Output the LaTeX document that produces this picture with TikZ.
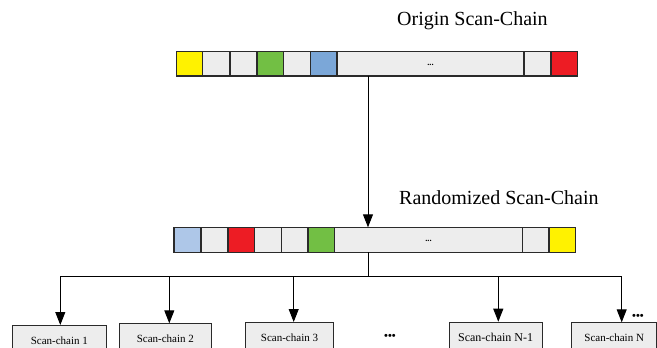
\documentclass[tikz,border=0pt]{standalone}
\usepackage{fontspec}
\setmainfont{Liberation Serif}
\usetikzlibrary{arrows.meta}
\definecolor{cellgray}{HTML}{EDEDED}
\definecolor{cyel}{HTML}{FFF200}
\definecolor{cgreen}{HTML}{72BF44}
\definecolor{cblue}{HTML}{7BA7D8}
\definecolor{clblue}{HTML}{AEC7E8}
\definecolor{cred}{HTML}{ED1C24}
\definecolor{edgec}{HTML}{2A2A2A}
\tikzset{
  cellbox/.style={draw=edgec, line width=1.1pt, fill=cellgray, inner sep=0pt, outer sep=0pt},
  dotstxt/.style={font=\fontsize{8.5}{9}\selectfont\bfseries},
  chainbox/.style={draw=edgec, line width=0.9pt, fill=cellgray, anchor=north, minimum height=30pt,
     inner sep=0pt, font=\fontsize{11}{13}\selectfont},
  title/.style={font=\fontsize{20}{24}\selectfont, inner sep=0pt},
  conn/.style={draw=black, line width=0.9pt},
  arr/.style={conn, -{Triangle[length=13pt,width=10pt]}},
  bdots/.style={font=\fontsize{11}{12}\selectfont\bfseries, inner sep=0pt}
}
\begin{document}
\begin{tikzpicture}[x=1pt,y=-1pt]
\useasboundingbox (0,0) rectangle (657,348);
\clip (0,0) rectangle (657,348);
% titles
\node[title, anchor=west] (t1) at (397,21) {Origin Scan-Chain};
\node[title, anchor=west] (t2) at (399,198) {Randomized Scan-Chain};
% origin chain
\foreach \n/\cx/\w/\c in {o1/189.7/26/cyel, o2/216.35/27.3/cellgray, o3/243.5/27/cellgray,
   o4/270.35/26.7/cgreen, o5/297/26.6/cellgray, o6/323.65/26.7/cblue, o8/537.5/27/cellgray,
   o9/564.15/26.3/cred}
  \node[cellbox, fill=\c, minimum width=\w pt, minimum height=24.3pt] (\n) at (\cx,63.85) {};
\node[cellbox, minimum width=187pt, minimum height=24.3pt] (o7) at (430.5,63.85) {};
\node[dotstxt] (od) at (430.5,64.5) {...};
% randomized chain
\foreach \n/\cx/\w/\c in {m1/187.5/27/clblue, m2/214.5/27/cellgray, m3/241.15/26.3/cred,
   m4/267.8/27/cellgray, m5/294.65/26.7/cellgray, m6/321.35/26.7/cgreen, m8/535.65/26.7/cellgray,
   m9/562.35/26.7/cyel}
  \node[cellbox, fill=\c, minimum width=\w pt, minimum height=25pt] (\n) at (\cx,239.8) {};
\node[cellbox, minimum width=187.6pt, minimum height=25pt] (m7) at (428.5,239.8) {};
\node[dotstxt] (md) at (428.5,240.5) {...};
% connectors
\coordinate (xa) at (368,0);
\draw[arr] (o7.south -| xa) -- (m7.north -| xa);
\coordinate (bus) at (368,276.7);
\draw[conn] (m7.south -| xa) -- (bus);
\coordinate (a1) at (60.3,276.7);
\coordinate (a2) at (169.3,276.7);
\coordinate (a3) at (293.7,276.7);
\coordinate (a4) at (498.3,276.7);
\coordinate (a5) at (621.7,276.7);
\draw[conn] (a1) -- (a5);
% scan-chain boxes
\node[chainbox, minimum width=93.3pt] (b1) at (59.35,325) {Scan-chain 1};
\node[chainbox, minimum width=92.7pt] (b2) at (165.35,323.3) {Scan-chain 2};
\node[chainbox, minimum width=87.6pt] (b3) at (289.5,322) {Scan-chain 3};
\node[chainbox, minimum width=93.3pt, font=\fontsize{12}{14}\selectfont] (b4) at (495.65,321.7) {Scan-chain N-1};
\node[chainbox, minimum width=85pt] (b5) at (614.2,322.3) {Scan-chain N};
\draw[arr] (a1) -- (a1 |- b1.north);
\draw[arr] (a2) -- (a2 |- b2.north);
\draw[arr] (a3) -- (a3 |- b3.north);
\draw[arr] (a4) -- (a4 |- b4.north);
\draw[arr] (a5) -- (a5 |- b5.north);
% ellipses
\node[bdots] (e1) at (390,337) {•••};
\node[bdots] (e2) at (638,316.5) {•••};
\end{tikzpicture}
\end{document}
